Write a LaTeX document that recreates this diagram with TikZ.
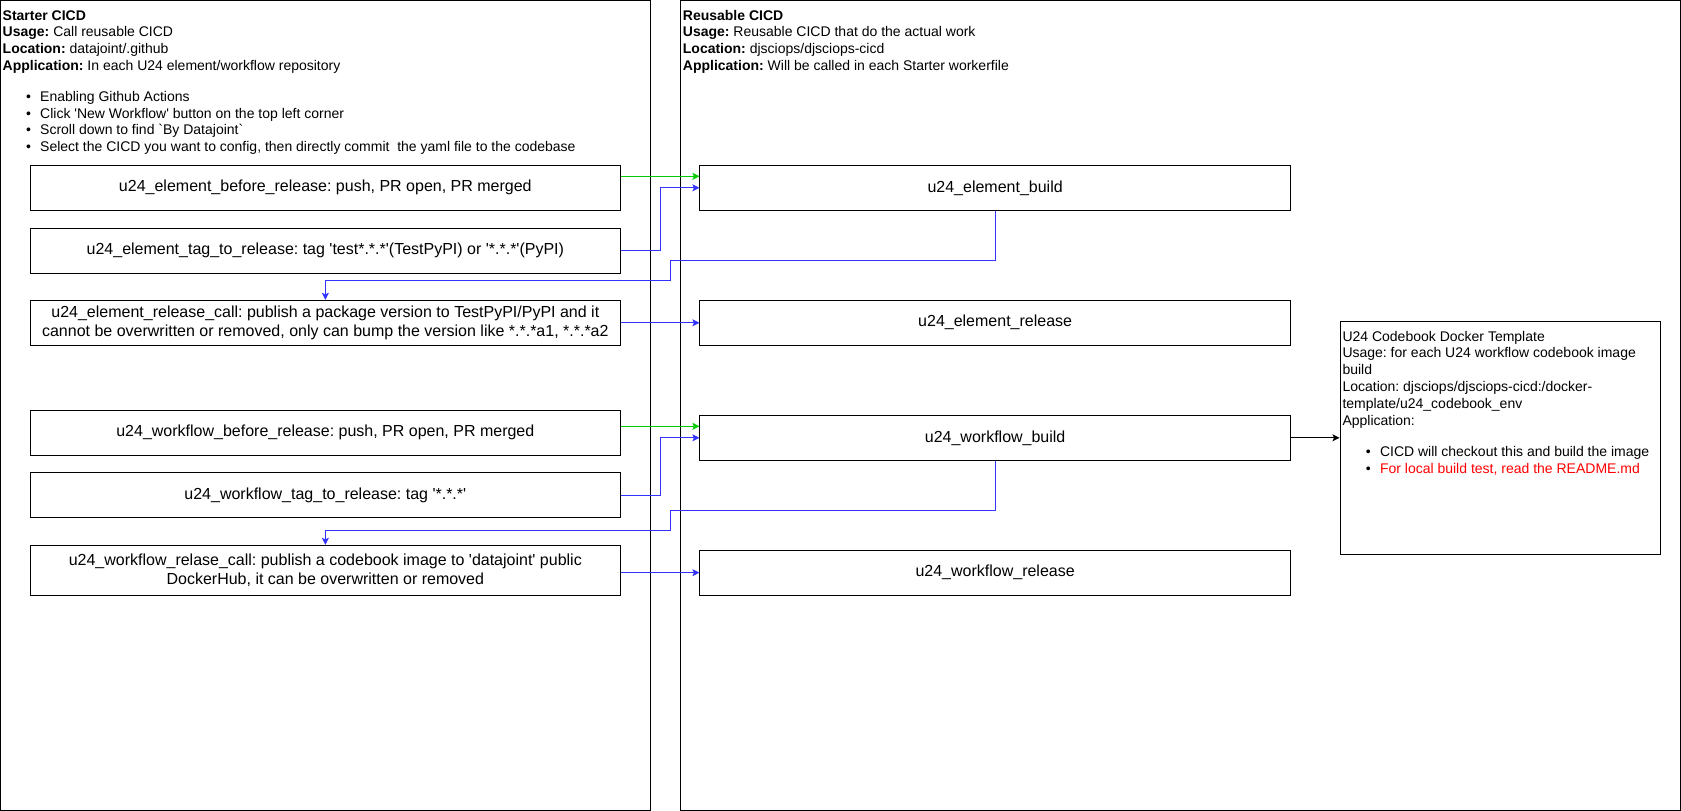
\documentclass[tikz,border=0pt]{standalone}
\usepackage{fontspec}
\setmainfont{Liberation Sans}
\usetikzlibrary{arrows.meta,calc}
\definecolor{flowgreen}{RGB}{0,204,0}
\definecolor{flowblue}{RGB}{51,51,255}
\definecolor{notered}{RGB}{255,0,0}
% one bullet line: dot, then text indented by 37.5pt
\newcommand{\bulletline}[1]{\makebox[37.5pt][l]{\hspace*{23.3pt}\textbullet}#1}
\frenchspacing
\begin{document}
\begin{tikzpicture}[x=1pt,y=-1pt,
  panel/.style={draw=black,line width=1pt},
  task/.style={draw=black,line width=1pt,minimum width=590.5pt,minimum height=45pt,
    inner sep=0pt,align=center,font=\fontsize{16}{19.2}\selectfont},
  headtext/.style={anchor=north west,inner sep=0pt,align=left,
    font=\fontsize{14}{16.8}\selectfont},
  conn/.style={line width=1pt,-{Stealth[length=7pt,width=7pt,inset=1.5pt]}},
]
\useasboundingbox (0,0) rectangle (1681,811);

% the two swimlanes
\draw[panel] (0.5,0.5) rectangle (650.5,810.5);
\draw[panel] (680.5,0.5) rectangle (1680.5,810.5);

% lane headers
\node[headtext] (starterText) at (2.5,8.2) {\strut\textbf{Starter CICD}\\
  \textbf{Usage:} Call reusable CICD\\
  \textbf{Location:} datajoint/.github\\
  \textbf{Application:} In each U24 element/workflow repository\\[13.9pt]
  \bulletline{Enabling Github Actions}\\
  \bulletline{Click \textquotesingle New Workflow\textquotesingle{} button on the top left corner}\\
  \bulletline{Scroll down to find \textasciigrave By Datajoint\textasciigrave}\\
  \bulletline{Select the CICD you want to config, then directly commit\ \ the yaml file to the codebase}};

\node[headtext] (reusableText) at (682.7,8.2) {\strut\textbf{Reusable CICD}\\
  \textbf{Usage:} Reusable CICD that do the actual work\\
  \textbf{Location:} djsciops/djsciops-cicd\\
  \textbf{Application:} Will be called in each Starter workerfile};

% starter jobs
\node[task] (box1) at (325.35,187.8) {u24\_element\_before\_release: push, PR open, PR merged};
\node[task] (box2) at (325.35,250.5) {u24\_element\_tag\_to\_release: tag \textquotesingle test*.*.*\textquotesingle(TestPyPI) or \textquotesingle*.*.*\textquotesingle(PyPI)};
\node[task] (box3) at (325.35,322.8) {u24\_element\_release\_call: publish a package version to TestPyPI/PyPI and it\\cannot be overwritten or removed, only can bump the version like *.*.*a1, *.*.*a2};
\node[task] (box4) at (325.35,432.8) {u24\_workflow\_before\_release: push, PR open, PR merged};
\node[task] (box5) at (325.35,495.2) {u24\_workflow\_tag\_to\_release: tag \textquotesingle*.*.*\textquotesingle};
\node[task,minimum height=49.7pt] (box6) at (325.35,570.15) {u24\_workflow\_relase\_call: publish a codebook image to \textquotesingle datajoint\textquotesingle{} public\\DockerHub, it can be overwritten or removed};

% reusable jobs
\node[task] (build) at (995.15,187.8) {u24\_element\_build};
\node[task] (release) at (995.15,322.65) {u24\_element\_release};
\node[task] (wbuild) at (995.15,437.8) {u24\_workflow\_build};
\node[task] (wrelease) at (995.15,572.65) {u24\_workflow\_release};

% docker template note
\node[draw=black,line width=1pt,minimum width=320pt,minimum height=233.3pt,inner sep=0pt] (docker) at (1500,437.65) {};
\node[headtext] (dockerText) at (1342.3,329.2) {\strut U24 Codebook Docker Template\\
  Usage: for each U24 workflow codebook image\\
  build\\
  Location: djsciops/djsciops-cicd:/docker-\\
  template/u24\_codebook\_env\\
  Application:\\[14.9pt]
  \bulletline{CICD will checkout this and build the image}\\
  \bulletline{\color{notered}For local build test, read the README.md}};

% element flow
\draw[conn,flowgreen] ($(box1.north east)!0.25!(box1.south east)$) -- ($(build.north west)!0.25!(build.south west)$);
\draw[conn,flowblue] (box2.east) -- ++(39.6,0) |- (build.west);
\coordinate (ebendA) at (670.3,260);
\coordinate (ebendB) at (670.3,280.3);
\draw[conn,flowblue] (build.south) |- (ebendA) -- (ebendB) -| (box3.north);
\draw[conn,flowblue] (box3.east) -- (box3.east -| release.west);

% workflow flow
\coordinate (wgreenIn) at ($(wbuild.north west)!0.25!(wbuild.south west)$);
\draw[conn,flowgreen] (box4.east |- wgreenIn) -- (wgreenIn);
\draw[conn,flowblue] (box5.east) -- ++(39.6,0) |- (wbuild.west);
\coordinate (wbendA) at (670.3,510);
\coordinate (wbendB) at (670.3,530.3);
\draw[conn,flowblue] (wbuild.south) |- (wbendA) -- (wbendB) -| (box6.north);
\draw[conn,flowblue] (box6.east |- wrelease.west) -- (wrelease.west);

% build uses the docker template
\draw[conn,black] (wbuild.east) -- (wbuild.east -| docker.west);
\end{tikzpicture}
\end{document}
